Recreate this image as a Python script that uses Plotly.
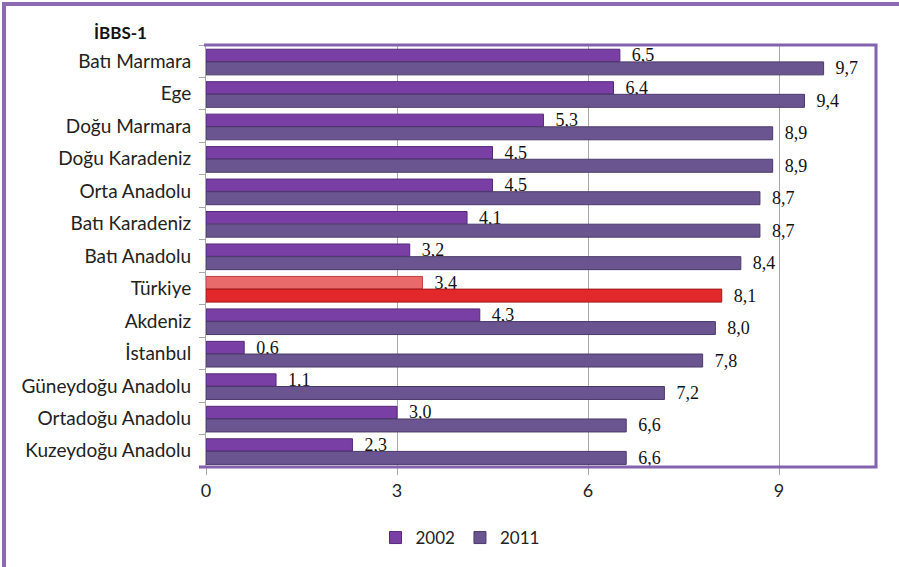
import plotly.graph_objects as go

categories = ["Batı Marmara", "Ege", "Doğu Marmara", "Doğu Karadeniz", "Orta Anadolu",
              "Batı Karadeniz", "Batı Anadolu", "Türkiye", "Akdeniz", "İstanbul",
              "Güneydoğu Anadolu", "Ortadoğu Anadolu", "Kuzeydoğu Anadolu"]
values_2002 = [6.5, 6.4, 5.3, 4.5, 4.5, 4.1, 3.2, 3.4, 4.3, 0.6, 1.1, 3.0, 2.3]
values_2011 = [9.7, 9.4, 8.9, 8.9, 8.7, 8.7, 8.4, 8.1, 8.0, 7.8, 7.2, 6.6, 6.6]
series_names = ["2002", "2011"]
title_text = "İBBS-1"
x_ticks = [0, 3, 6, 9]

C2002 = "#7A3FA4"
C2011 = "#6B5590"
R2002 = "#E96A6A"
R2011 = "#E2282B"
highlight = "Türkiye"

col02 = [R2002 if c == highlight else C2002 for c in categories]
col11 = [R2011 if c == highlight else C2011 for c in categories]
line02 = ["#C04040" if c == highlight else "#55287A" for c in categories]
line11 = ["#A01818" if c == highlight else "#4A3A6A" for c in categories]

label_font = dict(family="Liberation Serif, Times New Roman, serif", size=18, color="#111111")

fig = go.Figure()
fig.add_trace(go.Bar(
    y=categories, x=values_2002, orientation="h", name=series_names[0],
    marker=dict(color=col02, line=dict(color=line02, width=1)),
    width=0.38, offset=-0.37,
    texttemplate="\u2002%{x:.1f}", textposition="outside", textfont=label_font,
    constraintext="none", cliponaxis=False,
))
fig.add_trace(go.Bar(
    y=categories, x=values_2011, orientation="h", name=series_names[1],
    marker=dict(color=col11, line=dict(color=line11, width=1)),
    width=0.40, offset=0.02,
    texttemplate="\u2002%{x:.1f}", textposition="outside", textfont=label_font,
    constraintext="none", cliponaxis=False,
))

W, H = 899, 567
L, R, T, B = 206, 876, 45, 467

def px(x):
    return (x - L) / (R - L)

def py(y):
    return (B - y) / (B - T)

shapes = [
    dict(type="path", xref="paper", yref="paper",
         path=f"M {px(4)} {py(600)} L {px(4)} {py(4)} L {px(905)} {py(4)}",
         line=dict(color="#8B6BB1", width=4)),
    dict(type="path", xref="paper", yref="paper",
         path=f"M {px(204)} {py(45)} L {px(876)} {py(45)} L {px(876)} {py(467)} L {px(199)} {py(467)}",
         line=dict(color="#8462AE", width=3)),
]

tick_font = dict(family="Lato, Open Sans, sans-serif", size=19, color="#222222")

fig.update_layout(
    width=W, height=H,
    margin=dict(l=L, r=W - R, t=T, b=H - B, autoexpand=False),
    paper_bgcolor="white", plot_bgcolor="white",
    separators=",.",
    barmode="overlay",
    showlegend=True,
    legend=dict(orientation="h", x=px(460), xanchor="center", y=py(538), yanchor="middle",
                font=dict(family="Lato, Open Sans, sans-serif", size=17, color="#222222"),
                itemwidth=30, traceorder="normal"),
    font=dict(family="Lato, Open Sans, sans-serif", size=17, color="#222222"),
    xaxis=dict(range=[0, (R - L) / 63.67], tickvals=x_ticks, showgrid=True,
               gridcolor="#A8A8A8", gridwidth=1, zeroline=False,
               showline=True, linecolor="#A8A8A8", ticks="outside", ticklen=7,
               tickcolor="#A8A8A8", tickfont=dict(family="Lato, Open Sans, sans-serif", size=18, color="#222222"),
               automargin=False),
    yaxis=dict(autorange="reversed", type="category", showline=True, linecolor="#A8A8A8",
               ticks="outside", tickson="boundaries", ticklen=6, tickcolor="#A8A8A8",
               ticklabelstandoff=10, tickfont=tick_font, automargin=False),
    shapes=shapes,
    annotations=[dict(text=f"<b>{title_text}</b>", xref="paper", yref="paper",
                      x=px(120), y=py(33), xanchor="center", yanchor="middle",
                      showarrow=False, font=dict(family="Lato, Open Sans, sans-serif",
                                                 size=17, color="#111111"))],
)

fig.write_html("out.html", config={"displayModeBar": False},
               post_script="document.body.style.margin='0';document.body.style.overflow='hidden';")
